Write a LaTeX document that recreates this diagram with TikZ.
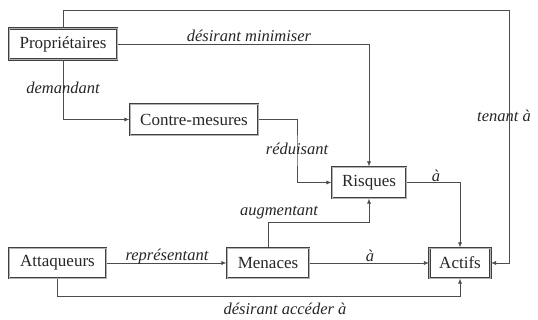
\documentclass[tikz,border=0pt]{standalone}
\usepackage{fontspec}
\setmainfont{Liberation Serif}[ItalicFont={Liberation Serif Italic}]
\usetikzlibrary{arrows.meta}
\begin{document}
\begin{tikzpicture}[x=1pt,y=-1pt,
  box/.style={draw=black!75, line width=1.2pt, double=black!30, double distance=0.5pt, fill=white, inner sep=0pt, font=\fontsize{17}{18}\selectfont, text=black!85},
  conn/.style={draw=black!70, line width=0.7pt, -{Latex[length=5pt,width=4pt]}},
  lab/.style={font=\fontsize{16.5}{18}\selectfont\itshape, text=black!85, inner sep=1pt}]
\useasboundingbox (0,0) rectangle (538,320);
\node[box, minimum width=108pt, minimum height=31pt] (prop) at (63,44) {Propriétaires};
\node[box, minimum width=128pt, minimum height=31pt] (cm) at (194,119.5) {Contre-mesures};
\node[box, minimum width=74pt, minimum height=31pt] (risq) at (369,182.5) {Risques};
\node[box, minimum width=97pt, minimum height=30pt] (att) at (57.5,263) {Attaqueurs};
\node[box, minimum width=82pt, minimum height=30pt] (men) at (268,263) {Menaces};
\node[box, minimum width=61pt, minimum height=30pt] (act) at (460,263) {Actifs};
\coordinate (tr) at (509,10);
\coordinate (redx) at (297,150);
\coordinate (aug) at (369,222);
\coordinate (bot) at (460,296);
% connectors
\draw[conn] (prop.north) |- (tr) |- (act.east);
\draw[conn] (prop.east) -| (risq.north);
\draw[conn] (prop.south) |- (cm.west);
\draw[conn] (cm.east) -| (redx) |- (risq.west);
\draw[conn] (men.north) |- (aug) -- (risq.south);
\draw[conn] (att.east) -- (men.west);
\draw[conn] (att.south) |- (bot) -- (act.south);
\draw[conn] (men.east) -- (act.west);
\draw[conn] (risq.east) -| (act.north);
% labels
\node[lab] (l1) at (249,36) {désirant minimiser};
\node[lab] (l2) at (63,88) {demandant};
\node[lab] (l3) at (297,149) {réduisant};
\node[lab] (l4) at (504,116) {tenant à};
\node[lab] (l5) at (436,176) {à};
\node[lab] (l6) at (279,213) {augmentant};
\node[lab] (l7) at (167,257) {représentant};
\node[lab] (l8) at (370,256) {à};
\node[lab] (l9) at (285,309) {désirant accéder à};
\end{tikzpicture}
\end{document}
